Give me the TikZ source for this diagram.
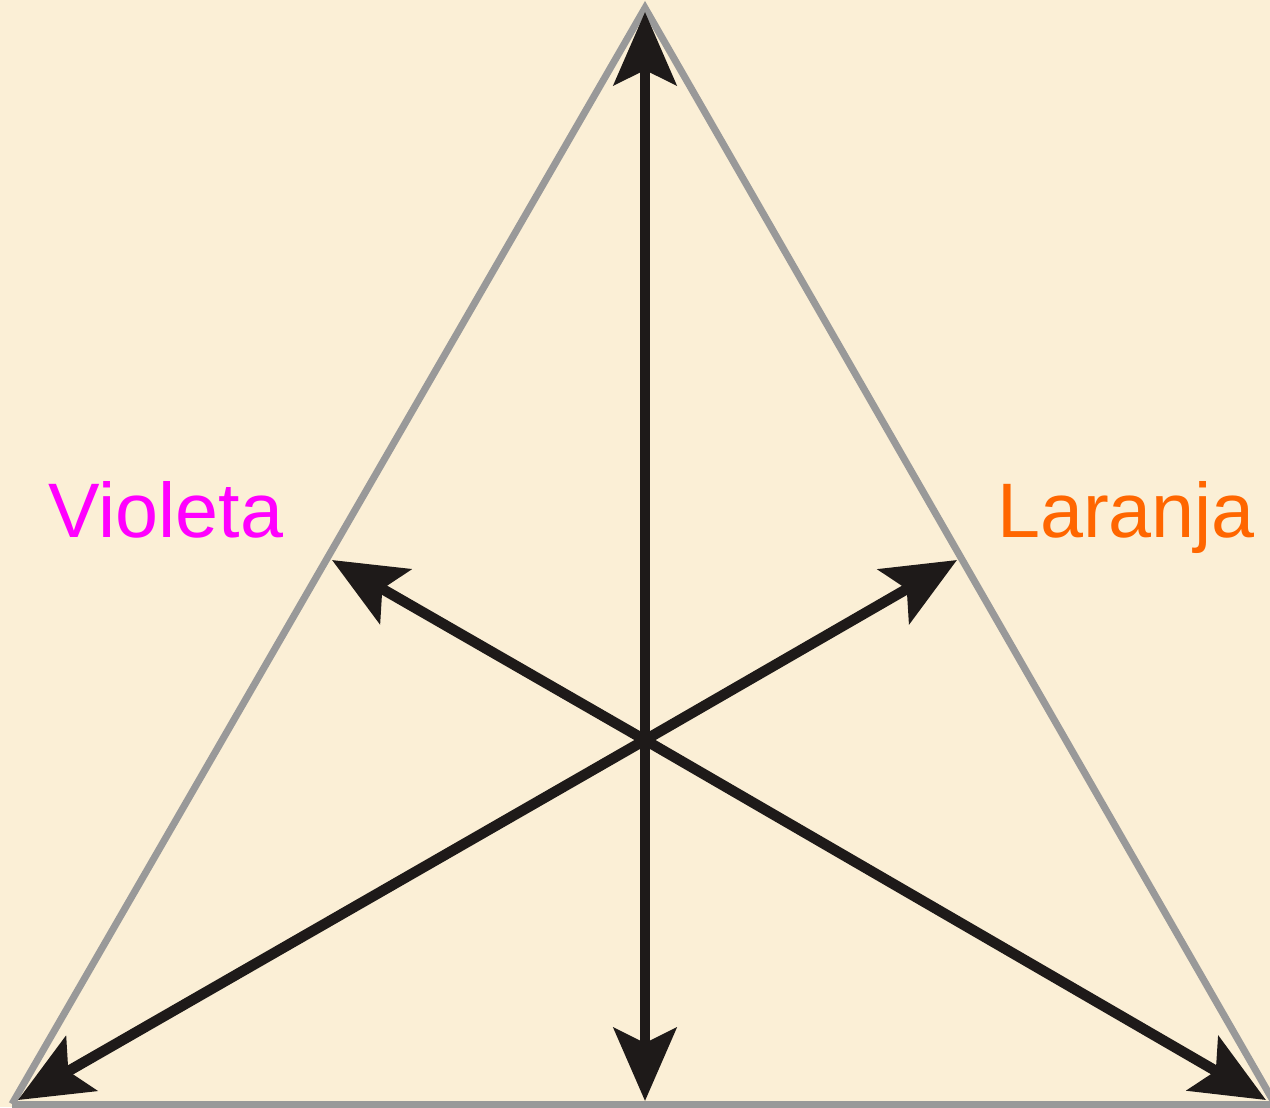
\documentclass[tikz,border=0pt]{standalone}
\usepackage{fontspec}
\setmainfont{Liberation Sans}
\usepackage{xcolor}
\usetikzlibrary{arrows.meta,positioning}
\definecolor{paperc}{HTML}{FBEFD6}
\definecolor{edgec}{HTML}{999999}
\definecolor{inkc}{HTML}{1E1A19}
\definecolor{violc}{HTML}{FF00FF}
\definecolor{laranc}{HTML}{FF6600}
\tikzset{
  ar/.style={-{Stealth[length=1.46cm,width=1.25cm,inset=0.3cm]},line width=6pt,inkc},
  tri/.style={draw=edgec,line width=4pt,line join=miter},
  lab/.style={font=\fontsize{44}{50}\selectfont,inner sep=0pt}
}

\begin{document}
\begin{tikzpicture}[x=0.02cm,y=-0.02cm]
\fill[paperc] (0,0) rectangle (1270,1107);
\useasboundingbox (0,0) rectangle (1270,1107);
\coordinate (T) at (645,8); \coordinate (L) at (12,1104); \coordinate (R) at (1275,1104);
\coordinate (O) at (645,740);
\coordinate (tT) at (645,12); \coordinate (tB) at (645,1101);
\coordinate (tL) at (18,1100); \coordinate (tR) at (1266,1100);
\coordinate (mL) at (332,560); \coordinate (mR) at (957,560);
\draw[tri] (L)--(T)--(R);
\draw[tri] (L)--(R);
\foreach \p in {tT,tB,tL,tR,mL,mR} \draw[ar] (O)--(\p);
\node[lab,violc,anchor=base] (vio) at (166,537) {Violeta};
\node[lab,laranc,anchor=base] (lar) at (1126,537) {Laranja};
\end{tikzpicture}
\end{document}
